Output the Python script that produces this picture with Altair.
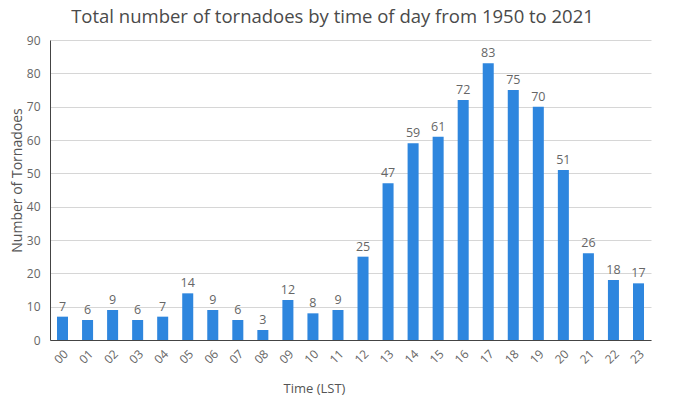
import altair as alt
import pandas as pd

hours = ["00","01","02","03","04","05","06","07","08","09","10","11",
         "12","13","14","15","16","17","18","19","20","21","22","23"]
counts = [7,6,9,6,7,14,9,6,3,12,8,9,25,47,59,61,72,83,75,70,51,26,18,17]

df = pd.DataFrame({"hour": hours, "count": counts})

FONT = "Open Sans"

base = alt.Chart(df).encode(
    x=alt.X("hour:N", sort=hours,
            scale=alt.Scale(paddingInner=0.56, paddingOuter=0.28),
            axis=alt.Axis(title="Time (LST)", labelAngle=-45, ticks=False,
                          labelPadding=8, labelFontSize=12, labelColor="#666666",
                          titleFontSize=13, titleColor="#555555", titleFontWeight="normal",
                          titleX=264, titleY=48, titleBaseline="middle",
                          domainColor="#444444", grid=False)),
    y=alt.Y("count:Q",
            scale=alt.Scale(domain=[0, 90], nice=False),
            axis=alt.Axis(title="Number of Tornadoes", values=list(range(0, 91, 10)),
                          ticks=False, labelPadding=10, labelFontSize=12,
                          labelColor="#666666", titleFontSize=14, titleColor="#555555",
                          titleFontWeight="normal", titleX=-33, titleY=140,
                          titleBaseline="middle",
                          domainColor="#444444", gridColor="#d6d6d6")),
)

bars = base.mark_bar(color="#2e86de")
labels = base.mark_text(baseline="bottom", dy=-3, fontSize=12.5, color="#666666",
                        font=FONT).encode(text="count:Q")

chart = (bars + labels).properties(
    width=601, height=300,
    autosize=alt.AutoSizeParams(type="none"),
    padding={"left": 42, "top": 32, "right": 41, "bottom": 60},
    title=alt.TitleParams("Total number of tornadoes by time of day from 1950 to 2021",
                          fontSize=18.5, fontWeight="normal", color="#4a4a4a",
                          font=FONT, anchor="middle", dx=-18, offset=8),
).configure(font=FONT).configure_view(stroke=None)

chart.save("out.html", embed_options={"renderer": "svg", "actions": False})
